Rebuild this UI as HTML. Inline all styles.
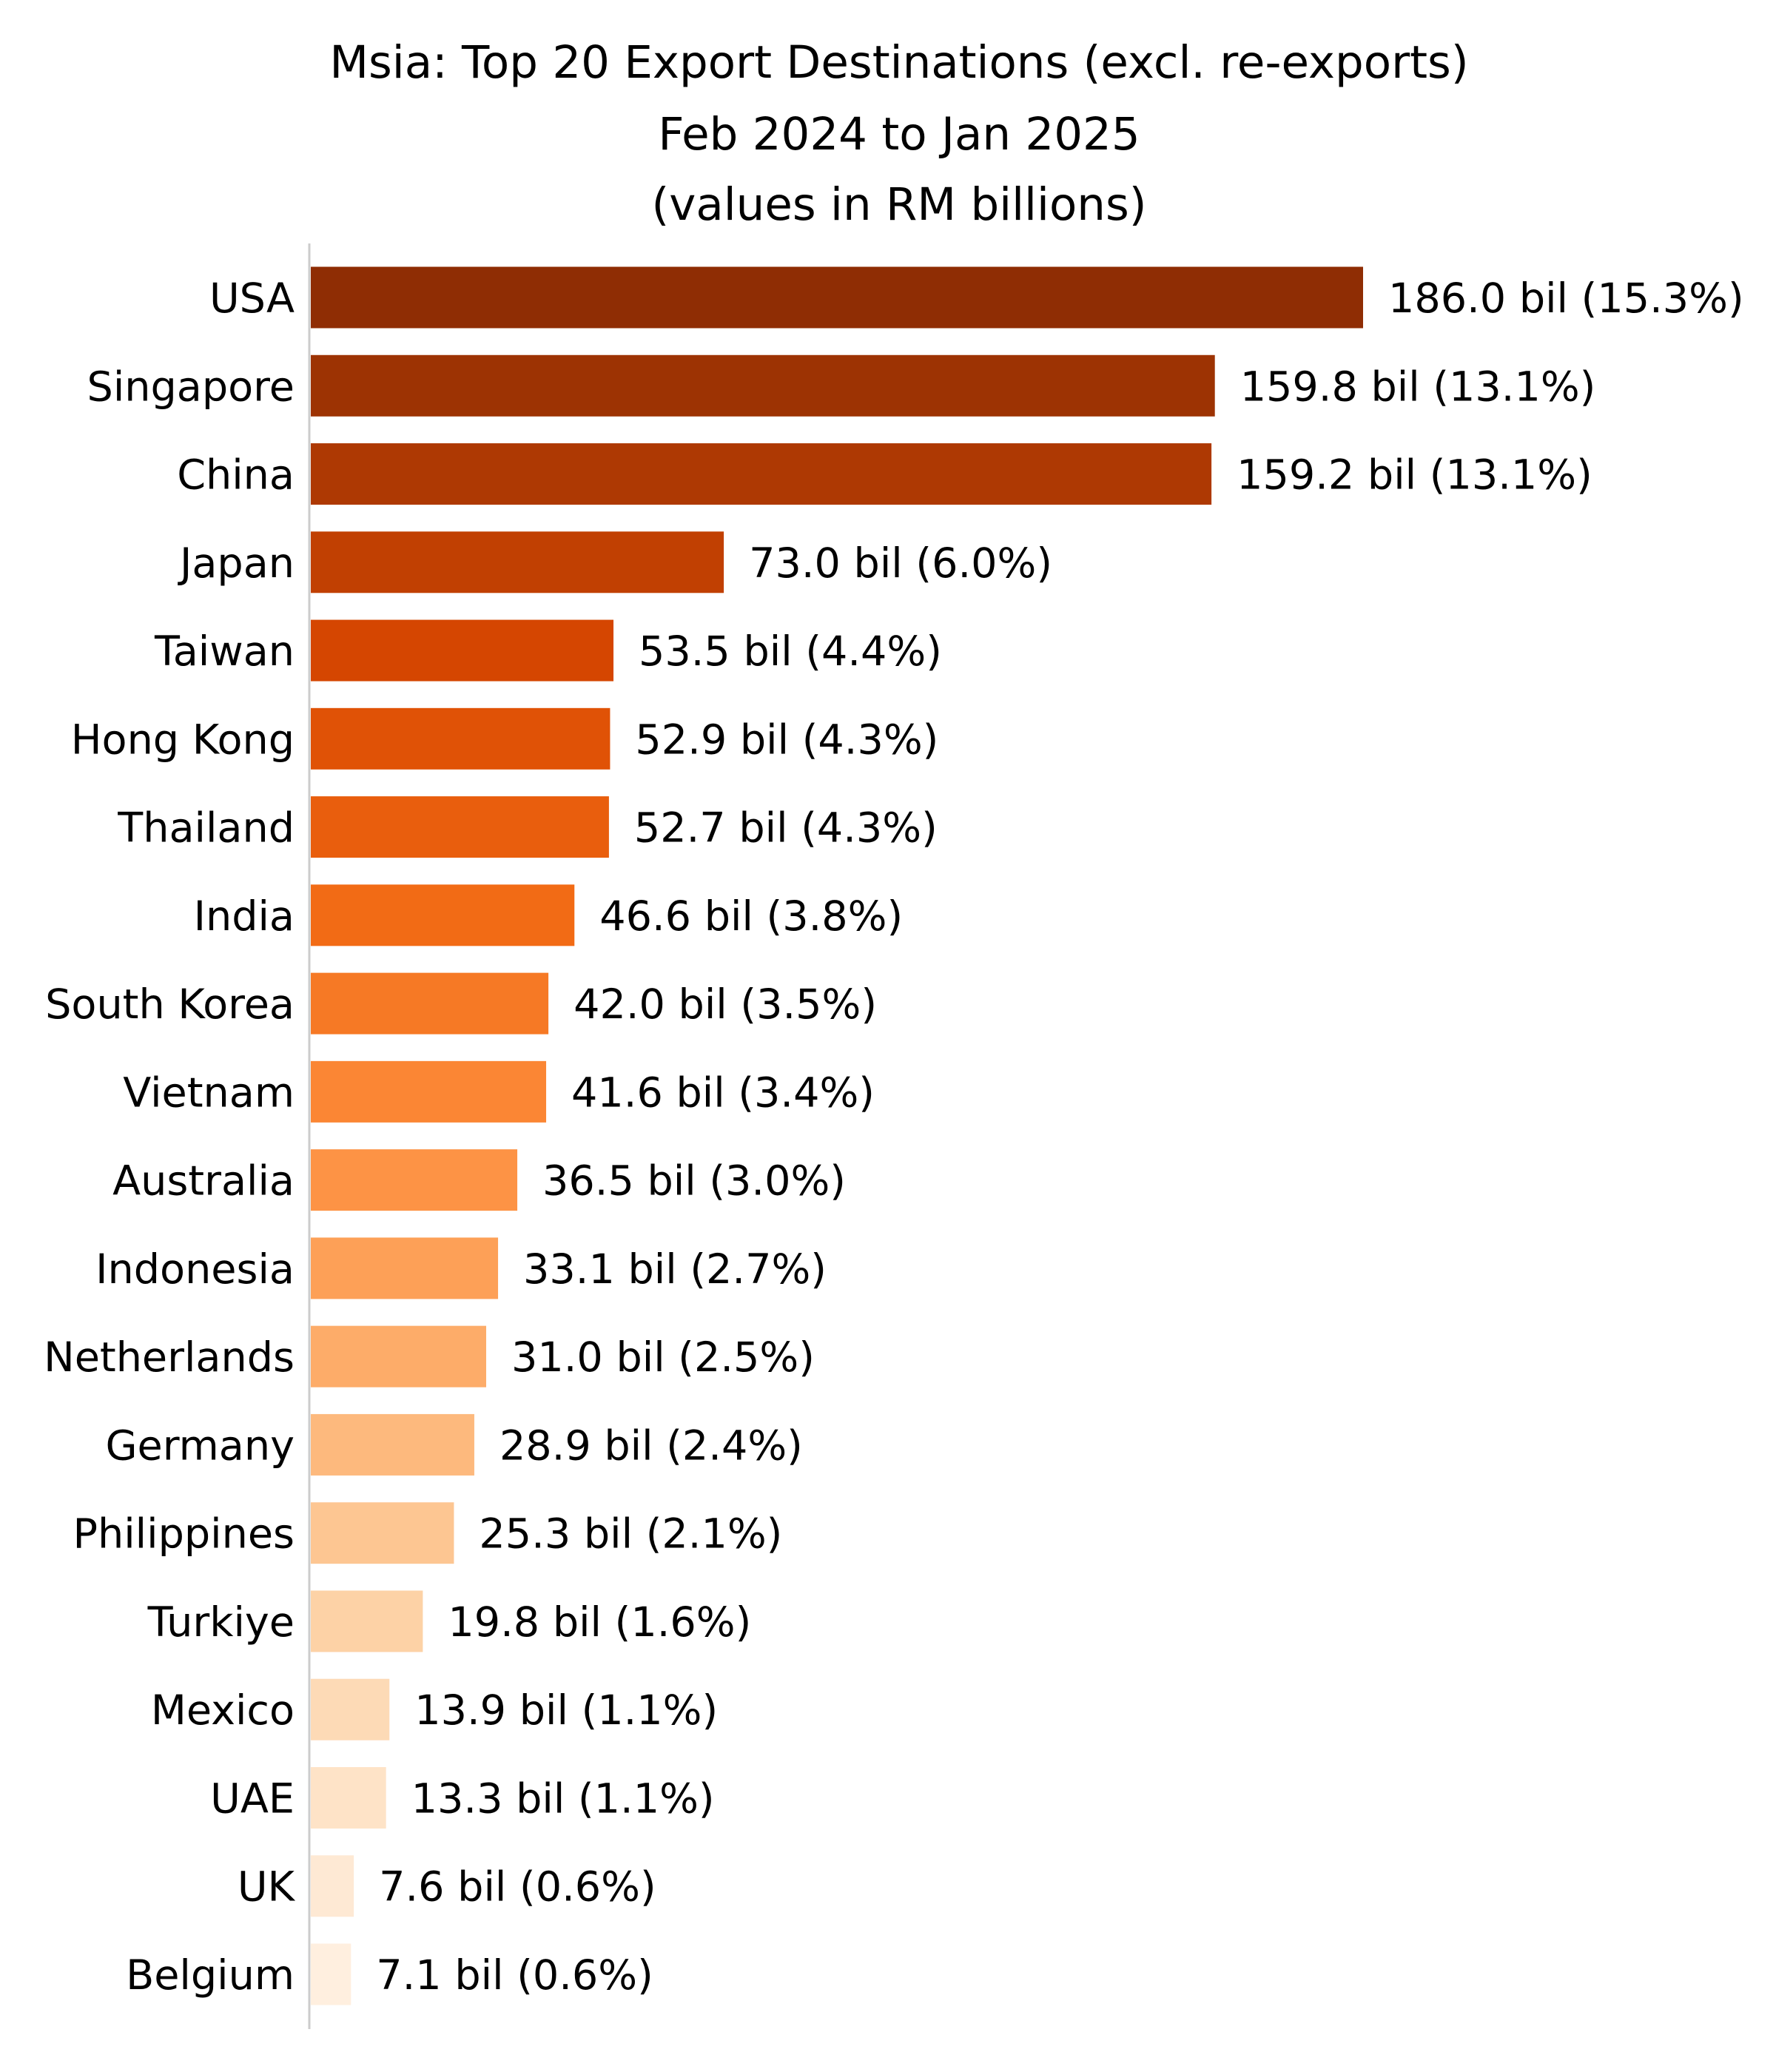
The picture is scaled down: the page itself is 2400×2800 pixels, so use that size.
<!DOCTYPE html>
<html><head><meta charset="utf-8"><style>
html,body{margin:0;padding:0;background:#fff;}
svg{display:block;font-family:"DejaVu Sans","Liberation Sans",sans-serif;}
</style></head><body>
<svg id="chart" width="2400" height="2800" viewBox="0 0 2400 2800" xmlns="http://www.w3.org/2000/svg">
<g font-size="61" text-anchor="middle" fill="#000">
<text x="1215" y="105">Msia: Top 20 Export Destinations (excl. re-exports)</text>
<text x="1215" y="202">Feb 2024 to Jan 2025</text>
<text x="1215" y="297">(values in RM billions)</text>
</g>
<line x1="418" y1="329" x2="418" y2="2742" stroke="#cccccc" stroke-width="3"/>
<g id="bars"></g>
</svg>
<script>
const categories = ["USA","Singapore","China","Japan","Taiwan","Hong Kong","Thailand","India","South Korea","Vietnam","Australia","Indonesia","Netherlands","Germany","Philippines","Turkiye","Mexico","UAE","UK","Belgium"];
const values = [186.0,159.8,159.2,73.0,53.5,52.9,52.7,46.6,42.0,41.6,36.5,33.1,31.0,28.9,25.3,19.8,13.9,13.3,7.6,7.1];
const shares = [15.3,13.1,13.1,6.0,4.4,4.3,4.3,3.8,3.5,3.4,3.0,2.7,2.5,2.4,2.1,1.6,1.1,1.1,0.6,0.6];

const x0 = 420, pxPerUnit = 1422/186;
const xScale = v => x0 + v * pxPerUnit;
const yTop = 402, step = (2668-402)/19, barH = 83;
const yScale = i => yTop + i * step;
const stops = ["#fff5eb","#fee6ce","#fdd0a2","#fdae6b","#fd8d3c","#f16913","#d94801","#a63603","#7f2704"];
function hex(h){return [1,3,5].map(k=>parseInt(h.substr(k,2),16));}
function oranges(t){
  const p=t*(stops.length-1), i=Math.min(Math.floor(p),stops.length-2), f=p-i;
  const a=hex(stops[i]), b=hex(stops[i+1]);
  return "rgb("+a.map((c,k)=>Math.round(c+(b[k]-c)*f)).join(",")+")";
}
const NS="http://www.w3.org/2000/svg";
const g=document.getElementById("bars");
categories.forEach((c,i)=>{
  const cy=yScale(i);
  const t=0.95-i*(0.9/(categories.length-1));
  const r=document.createElementNS(NS,"rect");
  
  
  r.setAttribute("x",x0);r.setAttribute("y",cy-barH/2);
  r.setAttribute("width",xScale(values[i])-x0);r.setAttribute("height",barH);
  r.setAttribute("fill",oranges(t));
  g.appendChild(r);
  const lab=document.createElementNS(NS,"text");
  
  
  lab.setAttribute("x",398);lab.setAttribute("y",cy+20);
  lab.setAttribute("text-anchor","end");lab.setAttribute("font-size","55.6");
  lab.textContent=c;g.appendChild(lab);
  const v=document.createElementNS(NS,"text");
  
  
  v.setAttribute("x",xScale(values[i])+34);v.setAttribute("y",cy+20);
  v.setAttribute("font-size","55.6");
  v.textContent=values[i].toFixed(1)+" bil ("+shares[i].toFixed(1)+"%)";
  g.appendChild(v);
});
</script>
</body></html>
